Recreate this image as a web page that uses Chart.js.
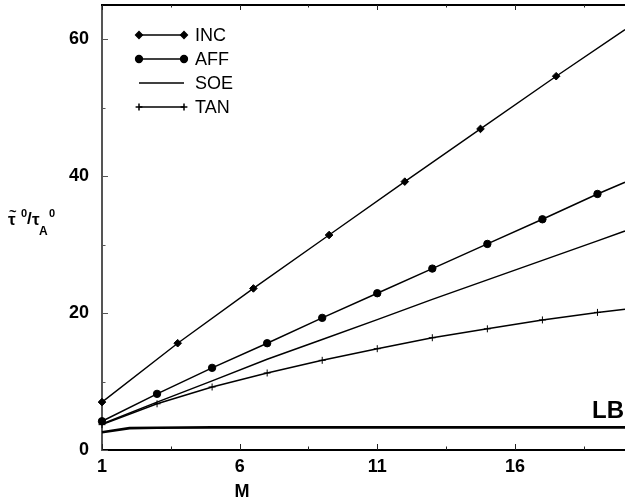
<!DOCTYPE html>
<html><head><meta charset="utf-8">
<script src="https://cdn.jsdelivr.net/npm/chart.js@4.4.1/dist/chart.umd.min.js"></script>
<style>
html,body{margin:0;padding:0;overflow:hidden;background:#fff;}
#wrap{width:630px;height:504px;position:relative;}
</style></head><body>
<div id="wrap"><canvas id="c"></canvas></div>
<script>
// ---- data ----
const xTickLabels = [1, 6, 11, 16];
const xMinorTicks = [3.5, 8.5, 13.5, 18.5];
const yTickLabels = [0, 20, 40, 60];
const yMinorTicks = [10, 30, 50];

const incM   = [1, 3.75, 6.5, 9.25, 12, 14.75, 17.5, 20];
const incVal = [7.0, 15.6, 23.6, 31.4, 39.2, 46.9, 54.6, 61.4];
const affM   = [1, 3, 5, 7, 9, 11, 13, 15, 17, 19, 20];
const affVal = [4.2, 8.2, 12.0, 15.6, 19.3, 22.9, 26.5, 30.1, 33.7, 37.4, 39.1];
const soeM   = [1, 3, 5, 7, 9, 11, 13, 15, 17, 19, 20];
const soeVal = [3.8, 7.0, 10.1, 13.25, 16.15, 19.05, 22.0, 24.85, 27.7, 30.55, 32.0];
const tanM   = [1, 3, 5, 7, 9, 11, 13, 15, 17, 19, 20];
const tanVal = [3.7, 6.75, 9.2, 11.25, 13.1, 14.8, 16.4, 17.7, 19.0, 20.1, 20.55];
const lbM    = [1, 2, 3, 5, 20];
const lbVal  = [2.6, 3.2, 3.25, 3.3, 3.3];
const seriesNames = ['INC', 'AFF', 'SOE', 'TAN', 'LB'];

const pts = (xs, ys) => xs.map((x, i) => ({x: x, y: ys[i]}));
const markAllButLast = (r) => (ctx) => ctx.dataIndex < ctx.dataset.data.length - 1 ? r : 0;
const FONT = '"Liberation Sans", Arial, sans-serif';

const datasets = [
  {label: seriesNames[0], data: pts(incM, incVal), borderColor: '#000', backgroundColor: '#000',
   borderWidth: 1.4, pointStyle: 'rectRot', pointRadius: markAllButLast(3.8), pointBorderWidth: 1},
  {label: seriesNames[1], data: pts(affM, affVal), borderColor: '#000', backgroundColor: '#000',
   borderWidth: 1.5, pointStyle: 'circle', pointRadius: markAllButLast(3.7), pointBorderWidth: 1},
  {label: seriesNames[2], data: pts(soeM, soeVal), borderColor: '#000', backgroundColor: '#000',
   borderWidth: 1.5, pointRadius: 0},
  {label: seriesNames[3], data: pts(tanM, tanVal), borderColor: '#000', backgroundColor: '#000',
   borderWidth: 1.5, pointStyle: 'cross', pointRadius: markAllButLast(3.5), pointBorderWidth: 1},
  {label: seriesNames[4], data: pts(lbM, lbVal), borderColor: '#000', backgroundColor: '#000',
   borderWidth: 2.6, pointRadius: 0}
];

const decor = {
  id: 'decor',
  afterDraw(chart) {
    const ctx = chart.ctx, a = chart.chartArea;
    const xs = chart.scales.x, ys = chart.scales.y;
    ctx.save();
    // top border
    ctx.strokeStyle = '#000'; ctx.lineWidth = 2;
    ctx.beginPath(); ctx.moveTo(a.left - 1, a.top); ctx.lineTo(a.right + 2, a.top); ctx.stroke();
    // inward ticks
    ctx.lineWidth = 1;
    const xt = (v, len) => {
      const p = Math.round(xs.getPixelForValue(v)) + 0.5;
      ctx.beginPath(); ctx.moveTo(p, a.bottom); ctx.lineTo(p, a.bottom - len); ctx.stroke();
      ctx.beginPath(); ctx.moveTo(p, a.top); ctx.lineTo(p, a.top + len - 1); ctx.stroke();
    };
    ctx.strokeStyle = '#222';
    xTickLabels.forEach(v => xt(v, 6));
    xMinorTicks.forEach(v => xt(v, 3.5));
    ctx.strokeStyle = '#555';
    const yt = (v, len) => {
      const p = Math.round(ys.getPixelForValue(v)) + 0.5;
      ctx.beginPath(); ctx.moveTo(a.left, p); ctx.lineTo(a.left + len, p); ctx.stroke();
    };
    yTickLabels.forEach(v => yt(v, 6));
    yMinorTicks.forEach(v => yt(v, 3.5));

    // legend
    const rows = [35, 59, 83, 107];
    const x0 = 139, x1 = 184;
    ctx.fillStyle = '#000'; ctx.strokeStyle = '#000';
    for (let i = 0; i < 4; i++) {
      const ds = chart.data.datasets[i];
      const y = rows[i];
      ctx.lineWidth = ds.borderWidth;
      ctx.beginPath(); ctx.moveTo(x0, y); ctx.lineTo(x1, y); ctx.stroke();
      if (ds.pointStyle && i !== 2) {
        [x0, x1].forEach(px => {
          Chart.helpers.drawPoint(ctx, {pointStyle: ds.pointStyle, radius: 3.4, borderWidth: 1, rotation: 0}, px, y);
        });
      }
      ctx.font = '18px ' + FONT;
      ctx.textBaseline = 'middle'; ctx.textAlign = 'left';
      ctx.fillText(ds.label, 195, y + 1);
    }
    // LB label
    ctx.font = 'bold 24px ' + FONT;
    ctx.textBaseline = 'alphabetic'; ctx.textAlign = 'left';
    ctx.fillText(seriesNames[4], 592, 418);
    // x title
    ctx.font = 'bold 18px ' + FONT;
    ctx.textAlign = 'center';
    ctx.fillText('M', 242, 497);
    // y title  τ̃⁰/τA⁰
    ctx.textAlign = 'left';
    ctx.font = 'bold 17px ' + FONT;
    ctx.fillText('τ', 8, 225);
    ctx.font = 'bold 13px ' + FONT;
    ctx.fillText('~', 9, 216);
    ctx.font = 'bold 11px ' + FONT;
    ctx.fillText('0', 21, 217);
    ctx.font = 'bold 17px ' + FONT;
    ctx.fillText('/', 27, 224);
    ctx.font = 'bold 17px ' + FONT;
    ctx.fillText('τ', 32, 225);
    ctx.font = 'bold 12px ' + FONT;
    ctx.fillText('A', 39, 235);
    ctx.font = 'bold 11px ' + FONT;
    ctx.fillText('0', 49, 217);
    ctx.restore();
  }
};

new Chart(document.getElementById('c'), {
  type: 'line',
  data: {datasets: datasets},
  options: {
    responsive: true, maintainAspectRatio: false, animation: false,
    devicePixelRatio: 1,
    layout: {padding: {left: 0, right: 1, top: 4, bottom: 0}},
    plugins: {legend: {display: false}, tooltip: {enabled: false}},
    elements: {line: {tension: 0}},
    datasets: {line: {clip: false}},
    scales: {
      x: {
        type: 'linear', min: 1, max: 20,
        afterBuildTicks: s => { s.ticks = xTickLabels.map(v => ({value: v})); },
        afterFit: s => { s.height = 54; s.paddingLeft = 0; s.paddingRight = 0; },
        grid: {display: false, drawTicks: false, tickLength: 0},
        border: {display: true, color: '#000', width: 2},
        ticks: {color: '#000', padding: 6, maxRotation: 0, autoSkip: false,
                font: {family: FONT, size: 18, weight: 'bold'}}
      },
      y: {
        type: 'linear', min: 0, max: 65,
        afterBuildTicks: s => { s.ticks = yTickLabels.map(v => ({value: v})); },
        afterFit: s => { s.width = 102; s.paddingTop = 0; s.paddingBottom = 0; },
        grid: {display: false, drawTicks: false, tickLength: 0},
        border: {display: true, color: '#555', width: 2},
        ticks: {color: '#000', padding: 13, autoSkip: false,
                font: {family: FONT, size: 18, weight: 'bold'}}
      }
    }
  },
  plugins: [decor]
});
</script>
</body></html>
